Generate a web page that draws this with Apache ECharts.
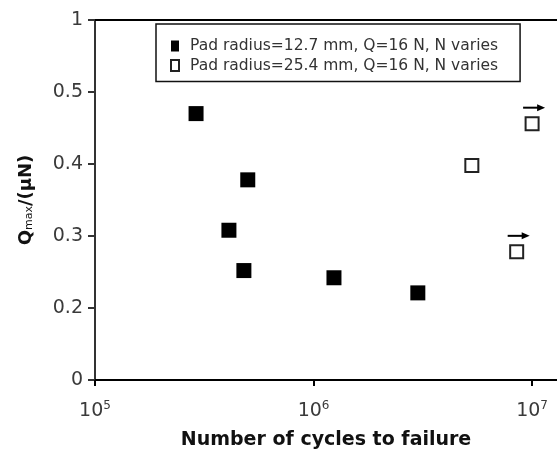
<!DOCTYPE html>
<html>
<head>
<meta charset="utf-8">
<script src="https://cdn.jsdelivr.net/npm/echarts@6/dist/echarts.min.js"></script>
<style>
  html, body { margin: 0; padding: 0; background: #fff; }
  #chart { width: 557px; height: 456px; }
</style>
</head>
<body>
<div id="chart"></div>
<script>
// Series: fretting fatigue life vs. normalised tangential force
const smallPadName = 'Pad radius=12.7 mm, Q=16 N, N varies';
const smallPadCycles = [2.9e5, 5.0e5, 4.1e5, 4.8e5, 1.24e6, 3.0e6];
const smallPadRatio  = [0.470, 0.378, 0.308, 0.252, 0.242, 0.221];

const largePadName = 'Pad radius=25.4 mm, Q=16 N, N varies';
const largePadCycles = [1.0e7, 5.3e6, 8.5e6];
const largePadRatio  = [0.456, 0.398, 0.278];
// run-outs (test stopped without failure) get an arrow
const largePadRunout = [true, false, true];

// Broken y scale: tick values placed at evenly spaced slots
const yTickValues = [0, 0.2, 0.3, 0.4, 0.5, 1];
const yTickLabels = ['0', '0.2', '0.3', '0.4', '0.5', '1'];
// x tick decades
const xTickValues = [1e5, 1e6, 1e7];

function toSlot(v) {
  for (let i = 0; i < yTickValues.length - 1; i++) {
    const a = yTickValues[i], b = yTickValues[i + 1];
    if (v <= b || i === yTickValues.length - 2) {
      return i + (v - a) / (b - a);
    }
  }
  return 0;
}

const smallPadData = smallPadCycles.map((n, i) => [n, toSlot(smallPadRatio[i])]);
const largePadData = largePadCycles.map((n, i) => [n, toSlot(largePadRatio[i])]);
const runoutData = largePadData.filter((d, i) => largePadRunout[i]);

const FONT = 'DejaVu Sans';

const chart = echarts.init(document.getElementById('chart'), null, { renderer: 'canvas' });
chart.setOption({
  animation: false,
  backgroundColor: '#fff',
  grid: { left: 95, right: 0, top: 20, bottom: 76 },
  legend: {
    left: 156, top: 24,
    orient: 'vertical',
    padding: [14, 22, 8, 14],
    itemGap: 3.5,
    itemWidth: 8, itemHeight: 11,
    backgroundColor: '#fff',
    borderColor: '#111', borderWidth: 1.5,
    textStyle: { fontFamily: FONT, fontSize: 15.5, color: '#333', lineHeight: 16, padding: [0, 0, 0, 6] },
    data: [smallPadName, largePadName]
  },
  xAxis: [{
    type: 'log', logBase: 10,
    min: 1e5, max: 1.3e7,
    position: 'bottom',
    axisLine: { lineStyle: { color: '#000', width: 2 } },
    axisTick: { show: true, length: 6, lineStyle: { color: '#000', width: 2 }, customValues: xTickValues },
    splitLine: { show: false },
    minorTick: { show: false },
    axisLabel: {
      customValues: xTickValues,
      margin: 20,
      formatter: v => '{b|10}{s|' + Math.round(Math.log10(v)) + '}',
      rich: {
        b: { fontFamily: FONT, fontSize: 19, color: '#3a3a3a' },
        s: { fontFamily: FONT, fontSize: 12, color: '#3a3a3a', padding: [0, 0, 10, 0] }
      }
    },
    name: 'Number of cycles to failure',
    nameLocation: 'middle',
    nameGap: 51,
    nameTextStyle: { fontFamily: FONT, fontSize: 19, fontWeight: 'bold', color: '#111' }
  }, {
    type: 'log', logBase: 10,
    min: 1e5, max: 1.3e7,
    position: 'top',
    axisLine: { lineStyle: { color: '#000', width: 2 } },
    axisTick: { show: false },
    axisLabel: { show: false },
    splitLine: { show: false }
  }],
  yAxis: {
    type: 'value',
    min: 0, max: yTickValues.length - 1, interval: 1,
    axisLine: { show: true, lineStyle: { color: '#333', width: 2 } },
    axisTick: { show: true, length: 7, lineStyle: { color: '#333', width: 2 } },
    splitLine: { show: false },
    axisLabel: {
      margin: 12,
      fontFamily: FONT, fontSize: 19, color: '#3a3a3a',
      formatter: v => yTickLabels[Math.round(v)]
    },
    name: '{q|Q}{s|max}{q|/(μN)}',
    nameLocation: 'middle',
    nameRotate: 90,
    nameGap: 60,
    nameTextStyle: {
      rich: {
        q: { fontFamily: FONT, fontSize: 18, fontWeight: 'bold', color: '#111' },
        s: { fontFamily: FONT, fontSize: 11, color: '#111', verticalAlign: 'bottom', padding: [6, 0, 0, 0] }
      }
    }
  },
  series: [{
    name: smallPadName,
    type: 'scatter',
    symbol: 'rect',
    symbolSize: 15,
    clip: false,
    itemStyle: { color: '#000', opacity: 1 },
    data: smallPadData
  }, {
    name: largePadName,
    type: 'scatter',
    symbol: 'rect',
    symbolSize: 13,
    clip: false,
    itemStyle: { color: '#fff', borderColor: '#222', borderWidth: 2, opacity: 1 },
    data: largePadData
  }, {
    // run-out arrows drawn above the marked points
    type: 'custom',
    clip: false,
    silent: true,
    data: runoutData,
    renderItem: (params, api) => {
      const p = api.coord([api.value(0), api.value(1)]);
      const y = p[1] - 16;
      return {
        type: 'group',
        children: [{
          type: 'line',
          shape: { x1: p[0] - 9, y1: y, x2: p[0] + 8, y2: y },
          style: { stroke: '#000', lineWidth: 2 }
        }, {
          type: 'polygon',
          shape: { points: [[p[0] + 13, y], [p[0] + 5, y - 3.5], [p[0] + 5, y + 3.5]] },
          style: { fill: '#000' }
        }]
      };
    }
  }]
});
</script>
</body>
</html>
